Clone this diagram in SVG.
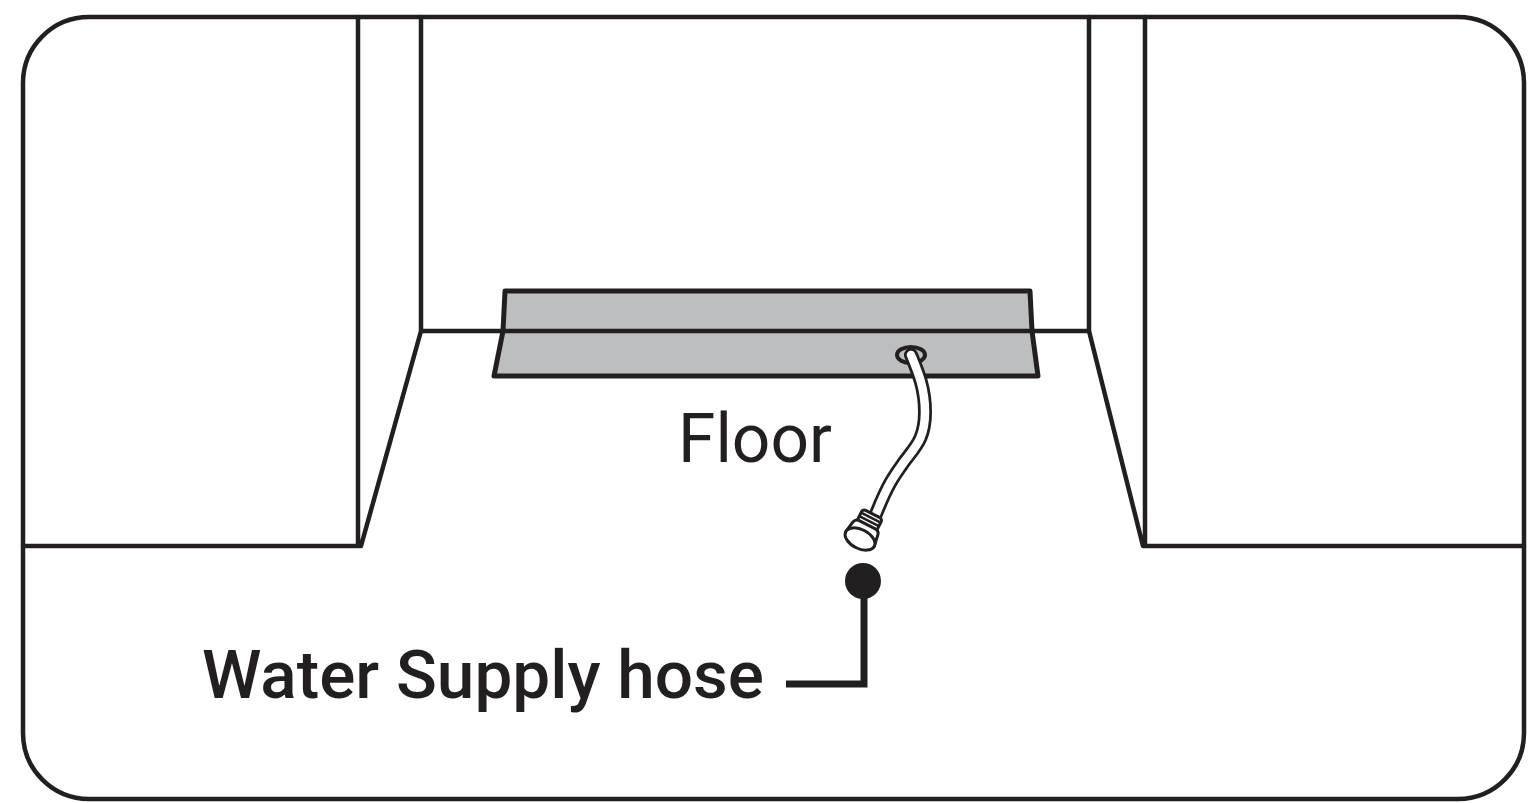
<svg xmlns="http://www.w3.org/2000/svg" width="1535" height="803" viewBox="0 0 1535 803">
<style>
.l{fill:none;stroke:#231f20;stroke-width:4.5;stroke-linejoin:round;stroke-linecap:round}
.t{font-family:Roboto,"Noto Sans",sans-serif;fill:#231f20}
.f{fill:#fff;stroke:#231f20;stroke-width:3;stroke-linejoin:round}
</style>
<rect width="1535" height="803" fill="#fff"/>
<g id="frame"><rect class="l" x="23" y="17" width="1501" height="782" rx="66" ry="66"/></g>
<g id="left-wall">
<path class="l" d="M23 546H361M358 17V546M361 546L421 331V17"/>
</g>
<g id="right-wall">
<path class="l" d="M1524 546H1143L1089 331V17M1145 17V546"/>
</g>
<g id="floor-panel">
<path d="M505 291H1030L1032 331L1038 376H494L503 331Z" fill="#bcbec0" stroke="#231f20" stroke-width="5" stroke-linejoin="round"/>
<path class="l" d="M421 331H1089"/>
</g>
<g id="hose">
<ellipse cx="911" cy="355" rx="14" ry="8" fill="none" stroke="#231f20" stroke-width="4"/>
<path d="M911 355C918 372 925 388 925 412C925 440 914 448 904 462C894 476 888 484 876 514" fill="none" stroke="#231f20" stroke-width="14" stroke-linecap="round"/>
<path d="M911 355C918 372 925 388 925 412C925 440 914 448 904 462C894 476 888 484 876 514" fill="none" stroke="#fff" stroke-width="8.5" stroke-linecap="round"/>
<g transform="translate(860 539) rotate(27)">
<rect class="f" x="-11" y="-28" width="22" height="14" rx="3"/>
<path d="M-11 -24H11M-11 -20H11" fill="none" stroke="#231f20" stroke-width="2.5"/>
<path class="f" d="M-16 0L-14 -12Q-13 -16 -9 -16H9Q13 -16 14 -12L16 0Z"/>
<ellipse class="f" cx="0" cy="0" rx="16" ry="9.5"/>
</g>
</g>
<g id="callout">
<circle cx="863" cy="581" r="18" fill="#231f20"/>
<path d="M864 581V684H786" fill="none" stroke="#231f20" stroke-width="7"/>
</g>
<text class="t" x="678" y="462" font-size="69" textLength="154" lengthAdjust="spacingAndGlyphs">Floor</text>
<text class="t" x="202" y="698" font-size="67" font-weight="500" textLength="562" lengthAdjust="spacingAndGlyphs">Water Supply hose</text>
</svg>
